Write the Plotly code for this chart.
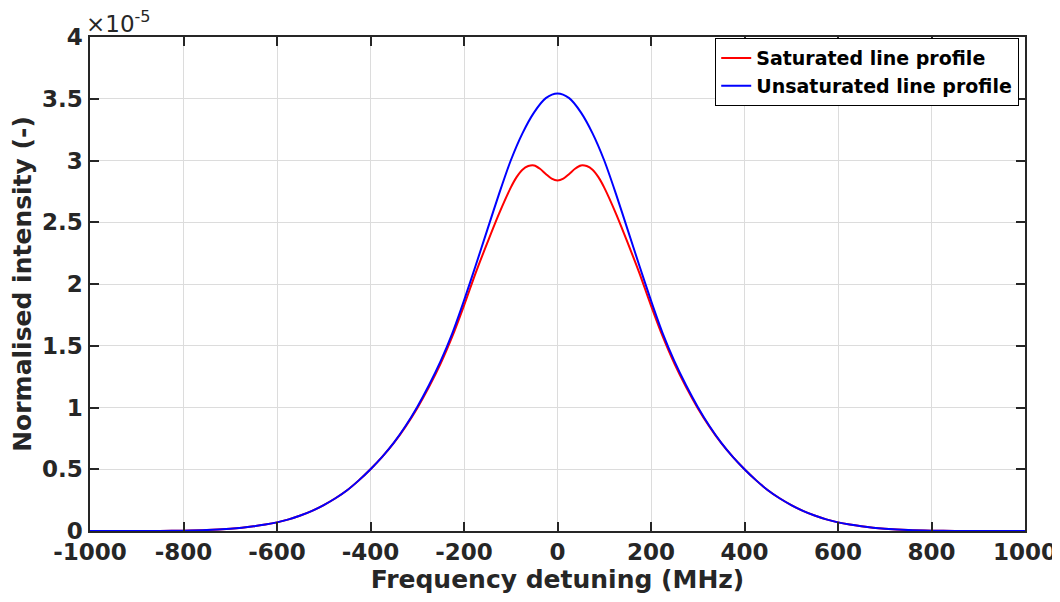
import plotly.graph_objects as go

# Frequency detuning (MHz)
freq = [-1000, -950, -900, -850, -800, -750, -700, -675, -650, -625, -600, -575, -550,
        -525, -500, -475, -450, -425, -400, -375, -350, -325, -300, -275, -250, -225,
        -200, -175, -150, -125, -100, -75, -50, -25, 0, 25, 50, 75, 100, 125, 150, 175,
        200, 225, 250, 275, 300, 325, 350, 375, 400, 425, 450, 475, 500, 525, 550, 575,
        600, 625, 650, 675, 700, 750, 800, 850, 900, 950, 1000]
# Unsaturated line profile (x 1e-5)
unsat = [0, 0, 0.0003, 0.001, 0.003, 0.008, 0.019, 0.027, 0.038, 0.052, 0.07, 0.094,
         0.125, 0.163, 0.21, 0.265, 0.33, 0.41, 0.5, 0.6, 0.715, 0.85, 1.005, 1.18,
         1.375, 1.6, 1.865, 2.15, 2.44, 2.73, 3.0, 3.22, 3.39, 3.505, 3.543, 3.505,
         3.39, 3.22, 3.0, 2.73, 2.44, 2.15, 1.865, 1.6, 1.375, 1.18, 1.005, 0.85, 0.715,
         0.6, 0.5, 0.41, 0.33, 0.265, 0.21, 0.163, 0.125, 0.094, 0.07, 0.052, 0.038,
         0.027, 0.019, 0.008, 0.003, 0.001, 0.0003, 0, 0]

freq_sat = [-1000, -950, -900, -850, -800, -750, -700, -675, -650, -625, -600, -575,
            -550, -525, -500, -475, -450, -425, -400, -375, -350, -325, -300, -275,
            -250, -225, -200, -175, -150, -125, -100, -87.5, -75, -62.5, -50, -37.5,
            -25, -12.5, 0, 12.5, 25, 37.5, 50, 62.5, 75, 87.5, 100, 125, 150, 175, 200,
            225, 250, 275, 300, 325, 350, 375, 400, 425, 450, 475, 500, 525, 550, 575,
            600, 625, 650, 675, 700, 750, 800, 850, 900, 950, 1000]
# Saturated line profile (x 1e-5)
sat = [0, 0, 0.0003, 0.001, 0.003, 0.008, 0.019, 0.027, 0.038, 0.052, 0.07, 0.094,
       0.125, 0.163, 0.21, 0.265, 0.33, 0.41, 0.5, 0.6, 0.713, 0.845, 0.995, 1.165,
       1.355, 1.575, 1.825, 2.09, 2.335, 2.57, 2.78, 2.865, 2.925, 2.955, 2.96, 2.933,
       2.891, 2.853, 2.838, 2.853, 2.891, 2.933, 2.96, 2.955, 2.925, 2.865, 2.78, 2.57,
       2.335, 2.09, 1.825, 1.575, 1.355, 1.165, 0.995, 0.845, 0.713, 0.6, 0.5, 0.41,
       0.33, 0.265, 0.21, 0.163, 0.125, 0.094, 0.07, 0.052, 0.038, 0.027, 0.019, 0.008,
       0.003, 0.001, 0.0003, 0, 0]

x_ticks = [-1000, -800, -600, -400, -200, 0, 200, 400, 600, 800, 1000]
x_tick_text = ["-1000", "-800", "-600", "-400", "-200", "0", "200", "400", "600", "800", "1000"]
y_ticks = [0, 0.5, 1, 1.5, 2, 2.5, 3, 3.5, 4]
y_tick_text = ["0", "0.5", "1", "1.5", "2", "2.5", "3", "3.5", "4"]

FONT = "DejaVu Sans, Liberation Sans, Arial, sans-serif"
AX = "#262626"
GRID = "#dcdcdc"

fig = go.Figure()
fig.add_trace(go.Scatter(x=freq_sat, y=sat, mode="lines", name="Saturated line profile",
                         line=dict(color="#ff0000", width=2, shape="spline", smoothing=0.8)))
fig.add_trace(go.Scatter(x=freq, y=unsat, mode="lines", name="Unsaturated line profile",
                         line=dict(color="#0000ff", width=2, shape="spline", smoothing=0.8)))

fig.update_layout(
    width=1060, height=602,
    margin=dict(l=82, r=43, t=29, b=79),
    paper_bgcolor="white", plot_bgcolor="white",
    font=dict(family=FONT, color=AX),
    showlegend=True,
    legend=dict(x=0.9936, y=0.998, xanchor="right", yanchor="top",
                bgcolor="white", bordercolor="#000000", borderwidth=1.2,
                font=dict(family=FONT, size=19, color="#000000", weight="bold"),
                tracegroupgap=0, itemwidth=30),
    xaxis=dict(range=[-1000, 1000], tickvals=x_ticks, ticktext=x_tick_text,
               ticks="inside", ticklen=9,
               tickwidth=1.5, tickcolor=AX, showline=True, linecolor=AX, linewidth=1.5,
               mirror="ticks", showgrid=True, gridcolor=GRID, gridwidth=1.2,
               zeroline=False,
               tickfont=dict(family=FONT, size=23, color=AX, weight="bold"),
               title=dict(text="Frequency detuning (MHz)", standoff=4,
                          font=dict(family=FONT, size=25, color=AX, weight="bold"))),
    yaxis=dict(range=[0, 4], tickvals=y_ticks, ticktext=y_tick_text, ticks="inside",
               ticklen=9, tickwidth=1.5, tickcolor=AX, showline=True, linecolor=AX,
               linewidth=1.5, mirror="ticks", showgrid=True, gridcolor=GRID,
               gridwidth=1.2, zeroline=False, ticklabelstandoff=1,
               tickfont=dict(family=FONT, size=23, color=AX, weight="bold"),
               title=dict(text="Normalised intensity (-)", standoff=4,
                          font=dict(family=FONT, size=25, color=AX, weight="bold"))),
)

fig.add_annotation(text="×10<sup>-5</sup>", xref="paper", yref="paper", x=0.0, y=1.0,
                   xanchor="left", yanchor="bottom", showarrow=False, xshift=-6, yshift=-2,
                   font=dict(family=FONT, size=23, color=AX))

fig.write_html("out.html")
